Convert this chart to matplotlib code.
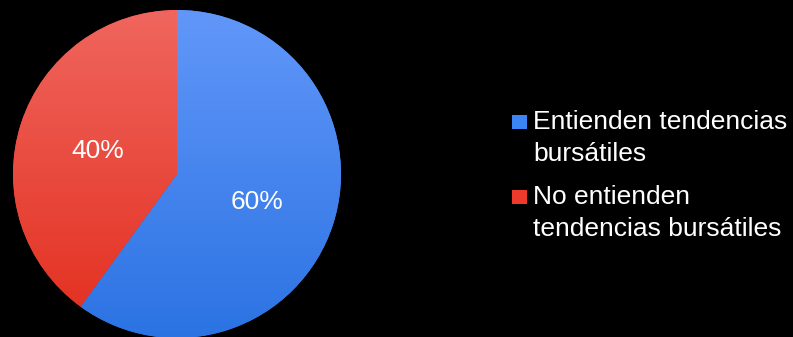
import numpy as np
import matplotlib
matplotlib.use("Agg")
import matplotlib.pyplot as plt
from matplotlib.colors import LinearSegmentedColormap
from matplotlib.patches import Rectangle

labels = ["Entienden tendencias\nbursátiles", "No entienden\ntendencias bursátiles"]
values = [60, 40]
top_colors = ["#6297F9", "#F0665E"]
bottom_colors = ["#2B73E3", "#E22E1E"]
mid_colors = ["#3A84F5", "#EE3A2C"]

plt.rcParams['font.family'] = ['Liberation Sans', 'DejaVu Sans']

W, H = 793, 337
fig = plt.figure(figsize=(W / 100, H / 100), dpi=100, facecolor="black")

cx, cy, r = 177, 174, 164
ax = fig.add_axes([(cx - r) / W, (H - cy - r) / H, 2 * r / W, 2 * r / H])
ax.set_facecolor("black")
wedges, texts, autotexts = ax.pie(values, colors=mid_colors, startangle=90, counterclock=False,
                                  radius=1, autopct='%d%%', pctdistance=0.51,
                                  textprops=dict(color="white", fontsize=19),
                                  wedgeprops=dict(linewidth=0))
ax.set_xlim(-1, 1)
ax.set_ylim(-1, 1)
ax.set_aspect("equal")
ax.axis("off")

grad = np.linspace(0, 1, 256).reshape(-1, 1)
for w, tc, bc in zip(wedges, top_colors, bottom_colors):
    cmap = LinearSegmentedColormap.from_list("g", [tc, bc])
    im = ax.imshow(grad, cmap=cmap, extent=[-1, 1, -1, 1], origin="upper",
                   aspect="auto", zorder=2, interpolation="bilinear")
    im.set_clip_path(w)
for t in autotexts:
    t.set_zorder(5)
    x, y = t.get_position()
    t.set_position((x, y - 0.015))
ax.set_xlim(-1, 1)
ax.set_ylim(-1, 1)

# legend
sq_x, sq_size = 512, 14.5
text_x = 533
first_baselines = [129, 204]
line_step = 32
for lab, col, b in zip(labels, mid_colors, first_baselines):
    fig.patches.append(Rectangle((sq_x / W, (H - b) / H), sq_size / W, sq_size / H,
                                 transform=fig.transFigure, facecolor=col, edgecolor="none"))
    for i, line in enumerate(lab.split("\n")):
        fig.text(text_x / W, (H - b - i * line_step) / H, line, color="white",
                 fontsize=19, va="baseline", ha="left")

fig.savefig("out.png", dpi=100, facecolor="black")
